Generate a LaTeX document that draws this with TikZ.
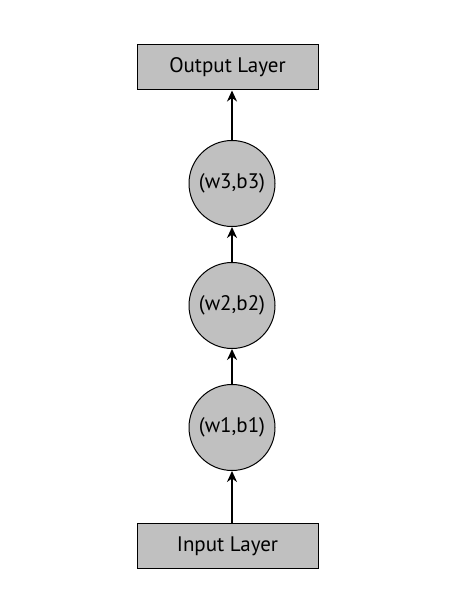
\documentclass[tikz,border=0pt]{standalone}
\usepackage{fontspec}
\setmainfont{PT Sans}
\usepackage{tikz}
\usetikzlibrary{arrows.meta,positioning}
\definecolor{layergray}{RGB}{192,192,192}

\begin{document}
\begin{tikzpicture}[
    x=1pt, y=1pt,
    box/.style={draw, fill=layergray, line width=1pt, minimum width=181pt, minimum height=45pt, font=\fontsize{21}{24}\selectfont},
    unit/.style={draw, fill=layergray, circle, line width=1pt, minimum size=86pt, inner sep=0pt, font=\fontsize{21}{24}\selectfont},
    link/.style={-{Stealth[length=11pt,width=10pt]}, line width=2pt},
    node distance=35pt
]
\useasboundingbox (0,0) rectangle (450,608);

% --- layers ---
\node[box] (input) at (227.5, 61.5) {Input Layer};
\node[unit] (u1) at (232, 180.5) {(w1,b1)};
\node[unit, above=of u1] (u2) {(w2,b2)};
\node[unit, above=of u2] (u3) {(w3,b3)};
\node[box] (output) at (227.5, 540.5) {Output Layer};

% --- connections ---
\draw[link] (input.north -| u1) -- (u1.south);
\draw[link] (u1) -- (u2);
\draw[link] (u2) -- (u3);
\draw[link] (u3) -- (output.south -| u3);

\end{tikzpicture}
\end{document}
